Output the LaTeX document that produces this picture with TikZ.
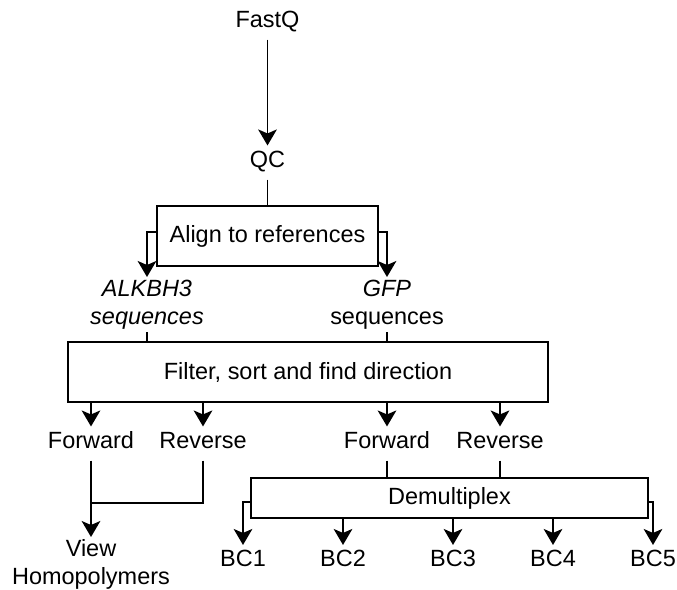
\documentclass[tikz,border=0pt]{standalone}
\usepackage{fontspec}
\setmainfont{Liberation Sans}
\usetikzlibrary{arrows.meta}
\begin{document}
\begin{tikzpicture}[x=0.75pt, y=-0.75pt, line width=1.4pt,
        font=\fontsize{17.6pt}{21pt}\selectfont,
        lbl/.style={inner xsep=0pt, inner ysep=8.5pt, text height=0.716em, text depth=0pt},
        twoline/.style={align=center, inner sep=1.5pt, anchor=north},
        procbox/.style={draw, minimum height=45pt},
        arr/.style={-{Stealth[length=12pt, width=14pt, inset=3pt]}}]
        \useasboundingbox (0,0) rectangle (677,589);
        \node[lbl] (fastq) at (267.5,22.5) {FastQ};
        \node[lbl] (qc) at (267.5,162.5) {QC};
        \node[procbox, minimum width=165.75pt] (align) at (267.5,236) {Align to references};
        \node[twoline] (alk) at (147,277) {\itshape ALKBH3\\\itshape sequences};
        \node[twoline] (gfp) at (387,277) {{\itshape GFP}\\sequences};
        \node[procbox, minimum width=360pt] (filter) at (308,372) {Filter, sort and find direction};
        \node[lbl] (fwdA) at (91,443.5) {Forward};
        \node[lbl] (revA) at (203,443.5) {Reverse};
        \node[lbl] (fwdG) at (387,443.5) {Forward};
        \node[lbl] (revG) at (500,443.5) {Reverse};
        \coordinate (join) at (91,503);
        \node[twoline] (view) at (91,537) {View\\Homopolymers};
        \node[procbox, minimum width=297.75pt, minimum height=30pt] (demux) at (449.5,498) {Demultiplex};
        \foreach \i/\x in {1/243,2/343,3/453,4/553,5/653}
            \node[lbl] (bc\i) at (\x,562) {BC\i};

        \draw[arr] (fastq) -- (qc);
        \draw (qc) -- (align);
        \draw[arr] ([yshift=3pt]align.west) -| (alk.north);
        \draw[arr] ([yshift=3pt]align.east) -| (gfp.north);
        \draw (alk) -- (alk |- filter.north);
        \draw (gfp) -- (gfp |- filter.north);
        \foreach \n in {fwdA,revA,fwdG,revG}
            \draw[arr] (\n |- filter.south) -- (\n);
        \draw[arr] (fwdA) -- (view);
        \draw (revA) |- (join);
        \draw (fwdG) -- (fwdG |- demux.north);
        \draw (revG) -- (revG |- demux.north);
        \draw[arr] ([yshift=-3pt]demux.west) -| (bc1.north);
        \draw[arr] ([yshift=-3pt]demux.east) -| (bc5.north);
        \foreach \i in {2,3,4}
            \draw[arr] (bc\i |- demux.south) -- (bc\i);
    \end{tikzpicture}
\end{document}
